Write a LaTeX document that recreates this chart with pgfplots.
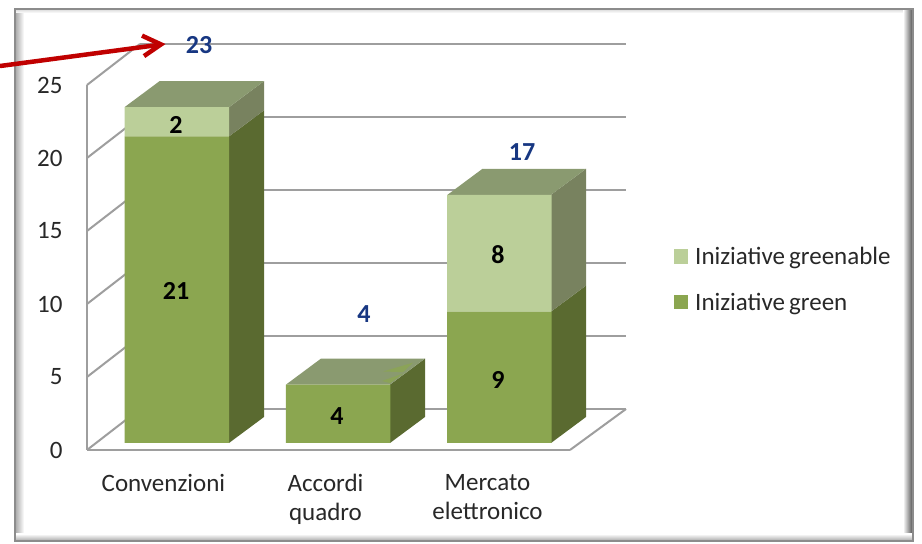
\documentclass[border=0pt]{standalone}
\usepackage{pgfplots}
\pgfplotsset{compat=1.18}
\usepackage{fontspec}
\setmainfont{Carlito}
\definecolor{gfront}{RGB}{139,166,80}
\definecolor{lfront}{RGB}{187,207,153}
\definecolor{gside}{RGB}{90,106,48}
\definecolor{lside}{RGB}{120,130,95}
\definecolor{gtop}{RGB}{138,154,112}
\definecolor{wall}{RGB}{158,158,158}
\definecolor{total}{RGB}{23,55,130}
\definecolor{arrowred}{RGB}{192,0,0}
\definecolor{txt}{RGB}{40,40,40}
\pgfplotsset{
  px/.style={at={(0pt,0pt)},anchor=south west,scale only axis,width=922pt,height=544pt,
    xmin=0,xmax=922,ymin=-6.918,ymax=30.342,hide axis,clip=false},
  gl/.style={draw=wall,line width=2pt,mark=none,forget plot},
  face/.style={fill=#1,draw=none,mark=none,forget plot},
}
\newcommand{\fs}{\fontsize{25}{29}\selectfont}
\newcommand{\fb}{\fontsize{26}{29}\selectfont\bfseries}
\begin{document}
\begin{tikzpicture}[x=1pt,y=1pt]
\useasboundingbox (0,0) rectangle (922,544);
\fill[white] (0,0) rectangle (922,544);
% frame
\shade[left color=black!35,right color=white] (15,3) rectangle (24,535);
\shade[top color=black!15,bottom color=white] (15,535) rectangle (908,531);
\shade[left color=white,right color=black!70] (903,3) rectangle (913,535);
\shade[top color=white,bottom color=black!35] (15,10) rectangle (913,3);
\draw[black!45,line width=1.5pt] (15,3) rectangle (913,535);
% value axis and categories
\begin{axis}[at={(87pt,94pt)},anchor=south west,scale only axis,width=483pt,height=365pt,
  xmin=-0.472,xmax=2.509,ymin=0,ymax=25,
  axis x line=bottom,axis y line=left,axis line style={draw=wall,line width=2pt,-},
  xtick={0,1,2},ytick={0,5,10,15,20,25},
  xticklabels={Convenzioni,{Accordi\\quadro},{Mercato\\elettronico}},
  major tick length=0pt,
  /pgf/number format/assume math mode=true,
  tick label style={font=\fs,text=txt},
  xticklabel style={align=center,yshift=-21pt},
  yticklabel style={xshift=-21pt},
]
\addplot[draw=none,mark=none] coordinates {(0,0)};
\end{axis}
% back wall and solids
\begin{axis}[px]
\addplot[gl] coordinates {(140,2.329)(626,2.329)};
\addplot[gl] coordinates {(140,7.329)(626,7.329)};
\addplot[gl] coordinates {(140,12.329)(626,12.329)};
\addplot[gl] coordinates {(140,17.329)(626,17.329)};
\addplot[gl] coordinates {(140,22.329)(626,22.329)};
\addplot[gl] coordinates {(140,27.329)(626,27.329)};
\addplot[gl] coordinates {(87,-0.479)(140,2.329)};
\addplot[gl] coordinates {(87,4.521)(140,7.329)};
\addplot[gl] coordinates {(87,9.521)(140,12.329)};
\addplot[gl] coordinates {(87,14.521)(140,17.329)};
\addplot[gl] coordinates {(87,19.521)(140,22.329)};
\addplot[gl] coordinates {(87,24.521)(140,27.329)};
\addplot[gl] coordinates {(570,-0.479)(626,2.329)};
% bar 1
\addplot[face=gside] coordinates {(229,0)(264,1.781)(264,22.781)(229,21)} --cycle;
\addplot[face=lside] coordinates {(229,21)(264,22.781)(264,24.781)(229,23)} --cycle;
\addplot[face=gtop] coordinates {(124.5,23)(159.5,24.781)(264,24.781)(229,23)} --cycle;
% bar 2
\addplot[face=gside] coordinates {(390,0)(425,1.781)(425,5.781)(390,4)} --cycle;
\addplot[face=gtop] coordinates {(286,4)(321,5.781)(425,5.781)(390,4)} --cycle;
\addplot[fill=gfront!75!gtop,draw=none,mark=none,forget plot] coordinates {(383,4.9)(413,5.5)(403,4.85)} --cycle;
\addplot[fill=gfront!75!gtop,draw=none,mark=none,forget plot] coordinates {(382,4.25)(403,4.75)(390,4.1)} --cycle;
% bar 3
\addplot[face=gside] coordinates {(551,0)(586,1.781)(586,10.781)(551,9)} --cycle;
\addplot[face=lside] coordinates {(551,9)(586,10.781)(586,18.781)(551,17)} --cycle;
\addplot[face=gtop] coordinates {(447.5,17)(482.5,18.781)(586,18.781)(551,17)} --cycle;
\end{axis}
% stacked front faces
\begin{axis}[px,ybar stacked,bar width=104.5pt]
\addplot[fill=gfront,draw=none] coordinates {(176.75,21)(338,4)(499.25,9)};
\addplot[fill=lfront,draw=none] coordinates {(176.75,2)(338,0)(499.25,8)};
\end{axis}
% labels, legend, arrow
\begin{axis}[px,
  legend style={at={(axis cs:674,13.57)},anchor=north west,draw=none,fill=none,
    font=\fs,text=txt,row sep=23pt,inner sep=0pt,
    /tikz/every odd column/.style={column sep=5pt}},
  legend cell align=left,
  legend image code/.code={\fill[#1] (0pt,-7pt) rectangle (14pt,7pt);},
]
\addlegendimage{fill=lfront,draw=none}
\addlegendentry{Iniziative\hspace{4pt}greenable}
\addlegendimage{fill=gfront,draw=none}
\addlegendentry{Iniziative\hspace{4pt}green}
\addplot[draw=none,mark=none,point meta=explicit symbolic,nodes near coords,
  nodes near coords align={center},
  every node near coord/.style={font=\fb,text=black,inner sep=0pt,anchor=center}]
  table[x=x,y=y,meta=l] {
x y l
176 10.41 21
176 21.78 2
337 1.85 4
498 12.88 8
498 4.3 9
};
\addplot[draw=none,mark=none,point meta=explicit symbolic,nodes near coords,
  nodes near coords align={center},
  every node near coord/.style={font=\fb,text=total,inner sep=0pt,anchor=center}]
  table[x=x,y=y,meta=l] {
x y l
199 27.24 23
364 8.83 4
522 19.93 17
};
\addplot[draw=arrowred,line width=4.5pt,mark=none,forget plot] coordinates {(0,25.82)(160,27.28)};
\addplot[draw=arrowred,line width=4.5pt,mark=none,line join=miter,forget plot] coordinates {(142,27.9)(161,27.3)(144,26.5)};
\end{axis}
\end{tikzpicture}
\end{document}
